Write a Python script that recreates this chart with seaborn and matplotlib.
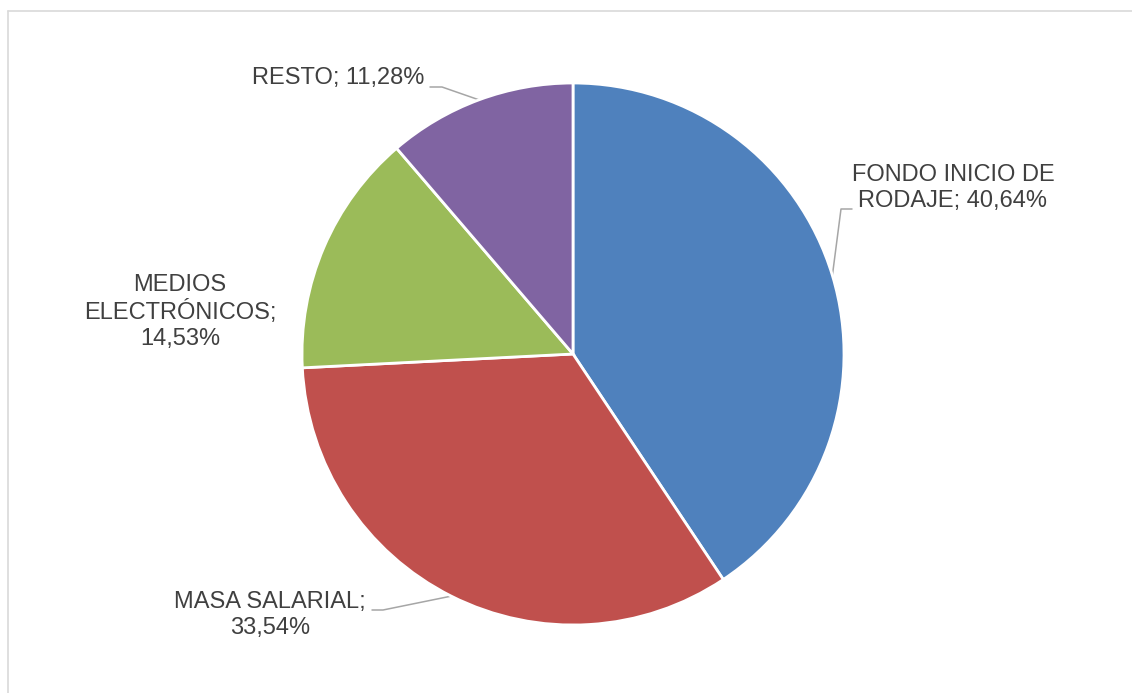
import textwrap
import numpy as np
import matplotlib
matplotlib.use("Agg")
import matplotlib.pyplot as plt
import seaborn as sns

# Budget shares (%)
categories = ["FONDO INICIO DE RODAJE", "MASA SALARIAL", "MEDIOS ELECTRÓNICOS", "RESTO"]
values = [40.64, 33.54, 14.53, 11.28]
colors = ["#4F81BD", "#C0504D", "#9BBB59", "#8064A2"]

sns.set_theme(style="white")
plt.rcParams["font.family"] = ["Liberation Sans", "DejaVu Sans"]

W, H = 1132, 693
fig = plt.figure(figsize=(W / 100, H / 100), dpi=100)
ax = fig.add_axes([0, 0, 1, 1])
ax.set_xlim(0, W)
ax.set_ylim(0, H)
ax.set_aspect("equal")
ax.axis("off")


def py(y):
    """Convert a top-down pixel row into axis units."""
    return H - y


center = (573, py(354))
radius = 271
wedges, _ = ax.pie(values, colors=colors, startangle=90, counterclock=False,
                   center=center, radius=radius,
                   wedgeprops=dict(edgecolor="white", linewidth=2.0),
                   frame=True)
ax.set_xlim(0, W)
ax.set_ylim(0, H)
ax.axis("off")

# Chart-area frame (top and left edges visible)
frame_col = "#D9D9D9"
ax.plot([7.5, W], [py(10.5), py(10.5)], color=frame_col, lw=1.2, clip_on=False)
ax.plot([7.5, 7.5], [py(10.5), 0], color=frame_col, lw=1.2, clip_on=False)

# Label layout: text centre (px), and optional leader elbow (px)
label_pos = [(953, 188), (270, 615), (180, 312), (338, 78)]
leader_elbow = [[(852, 209), (841, 209)],
                [(372, 610), (383, 610)],
                None,
                [(430, 87), (442, 87)]]

text_col = "#404040"
lead_col = "#A6A6A6"
for w, cat, val, (tx, ty), elbow in zip(wedges, categories, values, label_pos, leader_elbow):
    txt = f"{cat}; {val:.2f}".replace(".", ",") + "%"
    txt = textwrap.fill(txt, 16)
    ax.text(tx, py(ty), txt, ha="center", va="center", multialignment="center",
            fontsize=17, color=text_col)
    if elbow is not None:
        mid = np.deg2rad((w.theta1 + w.theta2) / 2)
        ex = center[0] + radius * np.cos(mid)
        ey = center[1] + radius * np.sin(mid)
        xs = [elbow[0][0], elbow[1][0], ex]
        ys = [py(elbow[0][1]), py(elbow[1][1]), ey]
        ax.plot(xs, ys, color=lead_col, lw=1.1, zorder=0.5)

fig.savefig("out.png", dpi=100, facecolor="white")
